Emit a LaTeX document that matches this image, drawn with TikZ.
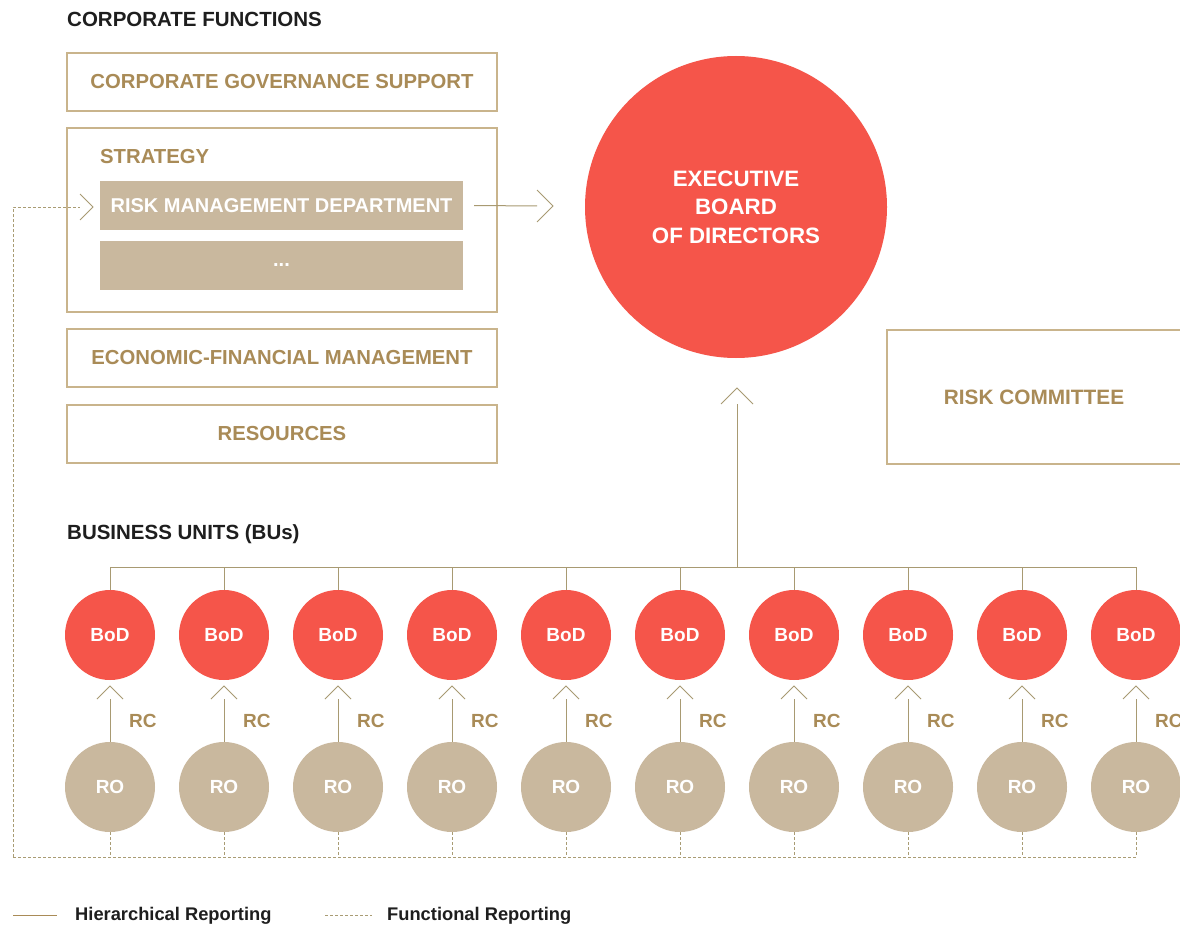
\documentclass[tikz,border=0pt]{standalone}
\usepackage{fontspec}
\setmainfont{Liberation Sans}
\definecolor{gold}{HTML}{A98B57}
\definecolor{boxline}{HTML}{C9B48C}
\definecolor{tan}{HTML}{C9B89E}
\definecolor{redc}{HTML}{F5554A}
\definecolor{linec}{HTML}{A89A72}
\definecolor{dashc}{HTML}{A99C74}
\definecolor{dark}{HTML}{1E1E1E}
\newcommand{\mychevR}[1]{\draw[chev] ($(#1)+(-16,-16)$) -- (#1) -- ($(#1)+(-16,16)$);}
\newcommand{\mychevU}[2]{\draw[chev] ($(#1)+(-#2,#2)$) -- (#1) -- ($(#1)+(#2,#2)$);}
\usetikzlibrary{calc}
\tikzset{
  fbox/.style={draw=boxline, line width=1.3pt, minimum width=430pt, minimum height=58pt, inner sep=0pt,
    text=gold, font=\bfseries\fontsize{20.3}{23}\selectfont},
  fillbox/.style={fill=tan, minimum width=363pt, minimum height=49pt, inner sep=0pt,
    text=white, font=\bfseries\fontsize{20}{23}\selectfont},
  hdr/.style={anchor=west, text=dark, font=\bfseries\fontsize{20.5}{23}\selectfont, inner sep=0pt},
  bod/.style={circle, fill=redc, minimum size=90pt, inner sep=0pt, text=white, font=\bfseries\fontsize{19}{22}\selectfont},
  ro/.style={circle, fill=tan, minimum size=90pt, inner sep=0pt, text=white, font=\bfseries\fontsize{19}{22}\selectfont},
  hline/.style={draw=linec, line width=1pt},
  chev/.style={draw=linec, line width=1pt},
  fline/.style={draw=dashc, line width=0.9pt, dash pattern=on 3pt off 2pt},
  rclab/.style={text=gold, font=\bfseries\fontsize{19}{22}\selectfont, inner sep=0pt},
  leg/.style={anchor=west, text=dark, font=\bfseries\fontsize{18.3}{21}\selectfont, inner sep=0pt}
}
\begin{document}
\begin{tikzpicture}[x=1pt,y=-1pt]
\useasboundingbox (0,0) rectangle (1180,928);
\clip (0,0) rectangle (1180,928);
\fill[white] (0,0) rectangle (1180,928);

\node[hdr] (cfh) at (67,19) {CORPORATE FUNCTIONS};
\node[fbox] (cgs) at (282,82) {CORPORATE GOVERNANCE SUPPORT};
\node[fbox, minimum height=184pt] (strat) at (282,220) {};
\node[anchor=west, text=gold, font=\bfseries\fontsize{20.3}{23}\selectfont, inner sep=0pt] (stratl) at (100,157) {STRATEGY};
\node[fillbox] (rmd) at (281.5,205.5) {RISK MANAGEMENT DEPARTMENT};
\node[fillbox] (dots) at (281.5,265.5) {...};
\node[fbox] (efm) at (282,358) {ECONOMIC-FINANCIAL MANAGEMENT};
\node[fbox] (res) at (282,434) {RESOURCES};

\node[circle, fill=redc, minimum size=302pt, inner sep=0pt, text=white, align=center,
  font=\bfseries\fontsize{22.3}{28.5}\selectfont] (ebd) at (736,207) {EXECUTIVE\\BOARD\\OF DIRECTORS};

\node[draw=boxline, line width=1.3pt, minimum width=300pt, minimum height=134pt, inner sep=0pt] (rcbox) at (1037,397) {};
\node[text=gold, font=\bfseries\fontsize{20.8}{23}\selectfont, inner sep=0pt] (rct) at (1034,397) {RISK COMMITTEE};

% RMD -> EBD
\coordinate (rmdtip) at (553,206);
\draw[hline] ($(rmd.east)+(11,0)$) -- ($(rmdtip)+(-16,0)$);
\mychevR{rmdtip}

\node[hdr] (buh) at (67,534) {BUSINESS UNITS (BUs)};

% bus
\coordinate (bus) at (737,567);
\coordinate (ebdtip) at (737,388);
\draw[hline] (bus) -- ($(ebdtip)+(0,16)$);
\mychevU{ebdtip}{16}

\coordinate (fl) at (13,857);
\coordinate (fltop) at (13,207);
\coordinate (rmdin) at (93,207);
\draw[fline] (fl) -- (fltop) -- ($(rmdin)+(-13,0)$);
\draw[chev] ($(rmdin)+(-13,-13)$) -- (rmdin) -- ($(rmdin)+(-13,13)$);

\foreach \i in {0,...,9} {
  \pgfmathsetmacro{\xx}{110+114*\i}
  \node[bod] (b\i) at (\xx,635) {BoD};
  \node[ro] (r\i) at (\xx,787) {RO};
  \coordinate (t\i) at (\xx,686);
  \draw[hline] (b\i.north) -- (\xx,567);
  \draw[hline] (r\i.north) -- ($(t\i)+(0,13)$);
  \mychevU{t\i}{13}
  \node[rclab, anchor=west] (rc\i) at (\xx+19,721) {RC};
  \draw[fline] (r\i.south) -- (\xx,857);
}
\draw[hline] (b0.north |- bus) -- (b9.north |- bus);
\draw[fline] (fl) -- (r9.south |- fl);

% legend
\coordinate (l1a) at (13,915);
\coordinate (l1b) at (57,915);
\draw[draw=gold, line width=1pt] (l1a) -- (l1b);
\node[leg] (lg1) at (75,916) {Hierarchical Reporting};
\coordinate (l2a) at (325,915);
\coordinate (l2b) at (372,915);
\draw[fline] (l2a) -- (l2b);
\node[leg] (lg2) at (387,916) {Functional Reporting};
\end{tikzpicture}
\end{document}
